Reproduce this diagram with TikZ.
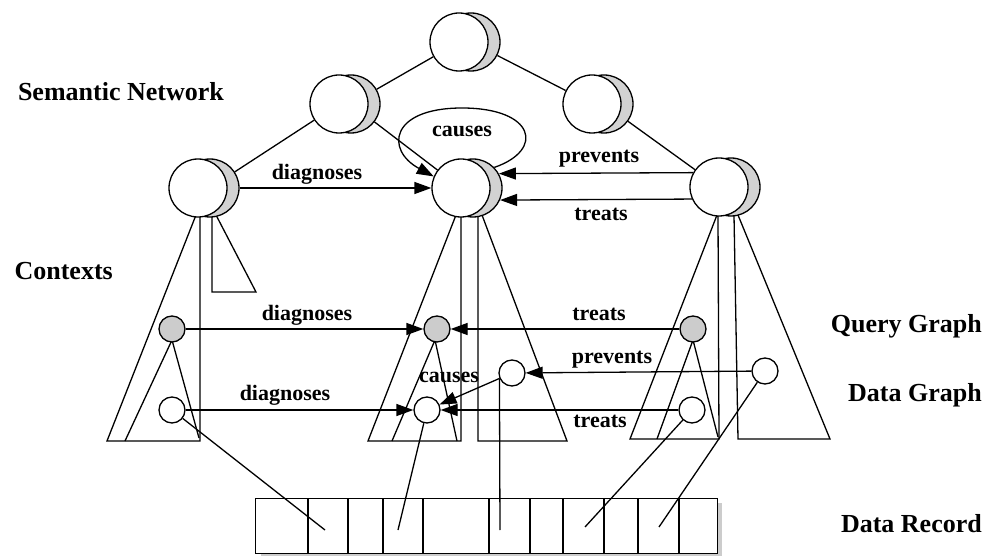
\documentclass[tikz,border=0pt]{standalone}
\usepackage{fontspec}
\setmainfont{Liberation Serif}
\usetikzlibrary{arrows.meta}
\tikzset{
  snback/.style={circle, draw, line width=1.3pt, fill=gray!35, minimum size=58pt, inner sep=0pt},
  snfront/.style={circle, draw, line width=1.3pt, fill=white, minimum size=58pt, inner sep=0pt},
  qnode/.style={circle, draw, line width=1.3pt, fill=gray!40, minimum size=26pt, inner sep=0pt},
  dnode/.style={circle, draw, line width=1.3pt, fill=white, minimum size=26pt, inner sep=0pt},
  link/.style={line width=1.3pt},
  arr/.style={line width=1.3pt, -{Triangle[length=17pt,width=12pt]}},
  tri/.style={line width=1.3pt, line join=miter},
  lab/.style={font=\fontsize{22}{24}\selectfont\bfseries, inner sep=0pt, anchor=base},
  side/.style={font=\fontsize{26}{28}\selectfont\bfseries, inner sep=0pt, anchor=base east},
}
\begin{document}
\begin{tikzpicture}[x=1pt, y=-1pt]
\useasboundingbox (0,0) rectangle (997,556);

% data record
\fill[gray!40] (261,503) rectangle (722,556);
\node[draw, line width=1.3pt, fill=white, minimum width=462pt, minimum height=55pt, inner sep=0pt, anchor=north west] (rec) at (255,498) {};
\foreach \xx in {308,348,383,423,489,530,563,604,638,679}
  \draw[link] (\xx,498) -- (\xx,553);
\coordinate (r1) at (325,530);
\coordinate (r2) at (398,530);
\coordinate (r3) at (500,530);
\coordinate (r4) at (585,527);
\coordinate (r5) at (659,527);

% context triangles
\draw[tri] (196,215) -- (107,441) -- (200,441) -- (200,215);
\draw[tri] (212,215) -- (212,292) -- (256,292) -- (216,215);
\draw[tri] (456,215) -- (368,441) -- (461,441) -- (461,215);
\draw[tri] (478,215) -- (478,441) -- (567,441) -- (482,215);
\draw[tri] (717,215) -- (630,439) -- (719,439) -- (718,215);
\draw[tri] (734,215) -- (738,439) -- (830,439) -- (738,215);
% inner triangles
\draw[tri] (125,441) -- (172,340) -- (199,438);
\draw[tri] (392,441) -- (435,340) -- (457,441);
\draw[tri] (657,439) -- (693,340) -- (718,437);

% semantic network nodes
\node[snback] (Tb) at (471,42) {};   \node[snfront] (T) at (459,42) {};
\node[snback] (L1b) at (351,104) {}; \node[snfront] (L1) at (339,104) {};
\node[snback] (R1b) at (604,104) {}; \node[snfront] (R1) at (592,104) {};
\node[snback] (Ab) at (210,188) {};  \node[snfront] (A) at (198,188) {};
\node[snback] (Sb) at (473,188) {};  \node[snfront] (S) at (461,188) {};
\node[snback] (Bb) at (731,187) {};  \node[snfront] (B) at (719,187) {};

\draw[link] (T) -- (L1b);
\draw[link] (Tb) -- (R1);
\draw[link] (L1) -- (Ab);
\draw[link] (L1b) -- (S);
\draw[link] (R1b) -- (B);

\draw[arr] (Ab) -- (S);
\draw[arr] (B.151) -- (Sb.29);
\draw[arr] (B.-156) -- (Sb.-24);
\draw[arr] (Sb.44) .. controls (545,150) and (535,108) .. (462,108)
                   .. controls (390,108) and (385,150) .. (S.157);

% query / data graph nodes
\node[qnode] (Q1) at (172,329) {};
\node[qnode] (Q2) at (437,329) {};
\node[qnode] (Q3) at (693,329) {};
\node[dnode] (D1) at (172,410) {};
\node[dnode] (D2) at (427,410) {};
\node[dnode] (D3) at (692,410) {};
\node[dnode] (D4) at (765,371) {};
\node[dnode] (D5) at (512,373) {};

\draw[arr] (Q1) -- (Q2);
\draw[arr] (Q3) -- (Q2);
\draw[arr] (D1) -- (D2);
\draw[arr] (D3) -- (D2);
\draw[arr] (D4) -- (D5);
\draw[arr] (D5) -- (D2);

\draw[link] (D1) -- (r1);
\draw[link] (D2) -- (r2);
\draw[link] (D5.-157) -- (r3);
\draw[link] (D3) -- (r4);
\draw[link] (D4) -- (r5);

% edge labels
\node[lab] at (317,180) {diagnoses};
\node[lab] at (599,163) {prevents};
\node[lab] at (601,221) {treats};
\node[lab] at (462,137) {causes};
\node[lab] at (307,321) {diagnoses};
\node[lab] at (285,400) {diagnoses};
\node[lab] at (449,382) {causes};
\node[lab] at (599,321) {treats};
\node[lab] at (612,363) {prevents};
\node[lab] at (600,427) {treats};

% side labels
\node[side] at (224,101) {Semantic Network};
\node[side] at (113,280) {Contexts};
\node[side] at (982,333) {Query Graph};
\node[side] at (982,402) {Data Graph};
\node[side] at (982,532) {Data Record};
\end{tikzpicture}
\end{document}
